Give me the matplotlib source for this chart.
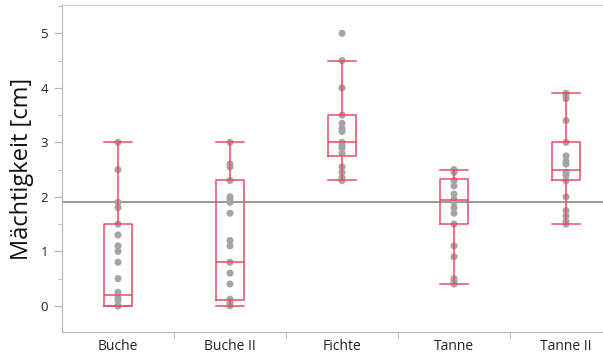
import numpy as np
import matplotlib
matplotlib.use('Agg')
import matplotlib.pyplot as plt
from matplotlib.ticker import MultipleLocator, FixedLocator

plt.rcParams['font.family'] = ['Open Sans', 'DejaVu Sans']

groups = ['Buche', 'Buche II', 'Fichte', 'Tanne', 'Tanne II']
buche = [3.0, 2.5, 1.9, 1.8, 1.5, 1.3, 1.1, 1.0, 0.8, 0.5, 0.25, 0.15, 0.1, 0.0, 0.0]
buche_ii = [3.0, 2.6, 2.55, 2.3, 2.0, 1.95, 1.9, 1.7, 1.2, 1.1, 0.8, 0.6, 0.4, 0.12, 0.05, 0.0]
fichte = [5.0, 4.5, 4.0, 3.5, 3.35, 3.25, 3.2, 3.0, 2.95, 2.9, 2.8, 2.55, 2.45, 2.35, 2.3]
tanne = [2.5, 2.45, 2.3, 2.2, 2.05, 1.95, 1.9, 1.8, 1.7, 1.5, 1.1, 0.9, 0.5, 0.45, 0.4]
tanne_ii = [3.9, 3.85, 3.8, 3.4, 3.0, 2.75, 2.65, 2.6, 2.45, 2.4, 2.3, 2.0, 1.75, 1.65, 1.55, 1.5]
values = [buche, buche_ii, fichte, tanne, tanne_ii]

# box statistics as shown (lower whisker, Q1, median, Q3, upper whisker)
whis_lo = [0.0, 0.0, 2.3, 0.4, 1.5]
q1 = [0.0, 0.1, 2.75, 1.5, 2.3]
median = [0.2, 0.8, 3.0, 1.95, 2.5]
q3 = [1.5, 2.3, 3.5, 2.32, 3.0]
whis_hi = [3.0, 3.0, 4.5, 2.5, 3.9]

grand_mean = 1.91

box_color = '#EA4D64'
dot_color = '#A5A5A5'
axis_color = '#B4B4B4'

fig = plt.figure(figsize=(6.03, 3.54), dpi=100)
ax = fig.add_axes([62 / 603, 22 / 354, 541 / 603, 327 / 354])

ax.axhline(grand_mean, color='#7F7F7F', lw=1.1, zorder=1)

for i, vals in enumerate(values):
    ax.scatter(np.full(len(vals), i), vals, s=26, color=dot_color,
               edgecolors='none', zorder=2)

stats = []
for i, g in enumerate(groups):
    stats.append({'label': g, 'whislo': whis_lo[i], 'q1': q1[i], 'med': median[i],
                  'q3': q3[i], 'whishi': whis_hi[i], 'fliers': []})
line_kw = dict(color=box_color, lw=1.1)
ax.bxp(stats, positions=range(len(groups)), widths=0.25, showfliers=False,
       boxprops=line_kw, medianprops=line_kw, whiskerprops=line_kw,
       capprops=line_kw, capwidths=0.25, zorder=3)

ax.set_xlim(-0.5, 4.33)
ax.set_ylim(-0.48, 5.52)

ax.set_yticks(range(6))
ax.set_yticklabels([str(v) for v in range(6)])
ax.yaxis.set_minor_locator(MultipleLocator(0.5))
ax.tick_params(axis='y', which='major', length=6, color=axis_color,
               labelsize=9.5, labelcolor='#222222', pad=4)
ax.tick_params(axis='y', which='minor', length=3, color=axis_color)

ax.set_xticks(range(len(groups)))
ax.set_xticklabels(groups)
ax.xaxis.set_minor_locator(FixedLocator([0.5, 1.5, 2.5, 3.5]))
ax.tick_params(axis='x', which='major', length=0, labelsize=10,
               labelcolor='#222222', pad=5)
ax.tick_params(axis='x', which='minor', length=5, color=axis_color)

ax.set_ylabel('Mächtigkeit [cm]', fontsize=17, color='#111111', labelpad=5)

ax.spines['right'].set_visible(False)
for s in ['left', 'bottom']:
    ax.spines[s].set_color(axis_color)
ax.spines['top'].set_color('#CCCCCC')

fig.savefig('out.png', dpi=100)
